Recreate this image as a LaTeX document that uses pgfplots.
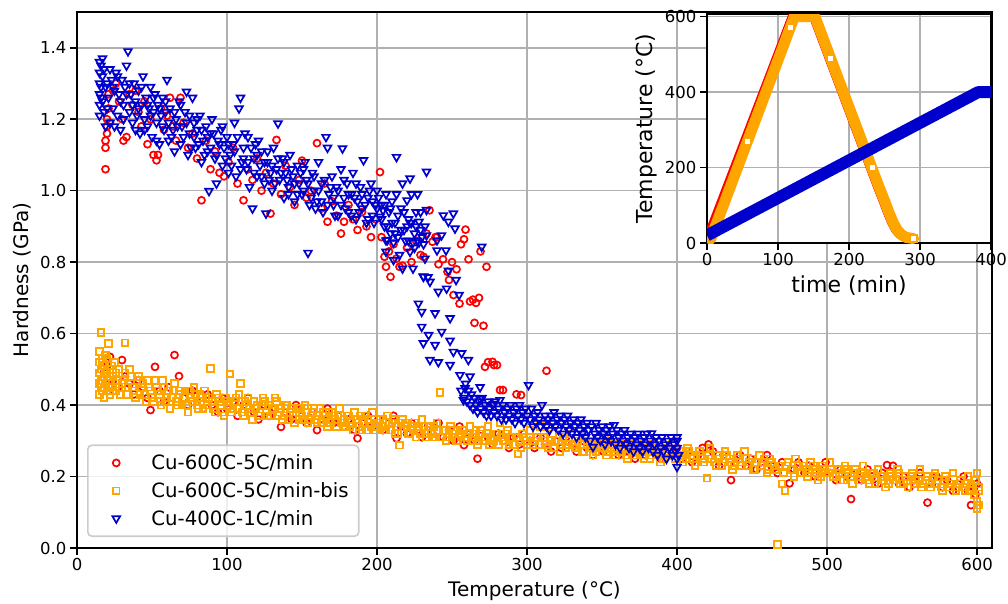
\documentclass[border=0pt]{standalone}
\usepackage{fontspec}
\setmainfont{DejaVu Sans}
\usepackage{pgfplots}
\pgfplotsset{compat=1.18}
\definecolor{mpred}{HTML}{FF0000}
\definecolor{mporange}{HTML}{FFA500}
\definecolor{mpblue}{HTML}{0000CD}
\definecolor{gridgray}{HTML}{B0B0B0}
\definecolor{legframe}{HTML}{CCCCCC}
\pgfplotsset{
  mpstyle/.style={
    scale only axis,
    grid=major,
    major grid style={gridgray, line width=1.6pt},
    axis line style={line width=1.6pt, black},
    tick align=outside, major tick length=7pt,
    tick style={line width=1.6pt, black},
    tick pos=left,
    /pgf/number format/assume math mode=true,
    ticklabel style={font=\fontsize{16.5}{19}\selectfont},
  }
}
\begin{document}
\begin{tikzpicture}[x=1pt,y=1pt]
\begin{axis}[mpstyle,
  at={(0pt,0pt)}, anchor=south west,
  width=915pt, height=536pt,
  xmin=0, xmax=610, ymin=0, ymax=1.5,
  xtick={0,100,200,300,400,500,600},
  ytick={0,0.2,0.4,0.6,0.8,1.0,1.2,1.4},
  yticklabel style={/pgf/number format/.cd, fixed, fixed zerofill, precision=1},
  label style={font=\fontsize{20}{24}\selectfont},
  xlabel={Temperature (°C)}, ylabel={Hardness (GPa)},
  xlabel style={at={(axis description cs:0.5,-0.080)}, anchor=center},
  ylabel style={at={(axis description cs:-0.0601,0.5)}, anchor=center},
  legend cell align=left,
  legend image code/.code={\path (0pt,0pt) (52pt,0pt); \draw[mark repeat=1,#1] plot coordinates {(19.6pt,0pt)};},
  legend style={at={(rel axis cs:0.011,0.0205)}, anchor=south west,
    draw=legframe, line width=1.6pt, rounded corners=4pt,
    fill=white, fill opacity=0.8, text opacity=1,
    font=\fontsize{19.7}{23}\selectfont, inner xsep=8pt, inner ysep=7.5pt,
    row sep=7.3pt},
]
% Cu-600C-5C/min (heating branch and cooled branch)
\addplot[only marks, mark=o, mark size=3.5pt, mpred, mark options={line width=1.7pt}] coordinates {
(19,1.06)(19,1.12)(19,1.14)(20,1.16)(20,1.18)(20,1.20)(21,1.23)(21,1.27)(22,1.19)
(24,1.28)(26,1.30)(28,1.25)(30,1.20)(31,1.14)(33,1.15)(35,1.27)(37,1.24)(39,1.28)(41,1.22)(43,1.18)(45,1.25)(47,1.13)(49,1.20)(51,1.10)(53,1.085)(54,1.10)(56,1.23)(58,1.17)(60,1.21)(62,1.26)(64,1.18)(66,1.14)(69,1.26)(71,1.19)(74,1.12)(77,1.16)(80,1.09)(83,0.973)(86,1.14)(89,1.06)(92,1.11)(95,1.05)(98,1.04)(101,1.08)(104,1.12)(107,1.02)(111,0.973)(114,1.06)(117,1.03)(120,1.09)(123,1.00)(126,1.05)(129,0.936)(131,1.02)(133,1.142)(136,0.99)(139,1.07)(142,1.01)(145,0.96)(148,1.03)(150,1.084)(153,0.98)(156,1.00)(160,1.133)(163,0.95)(165,1.02)(167,0.913)(170,0.97)(173,0.93)(176,0.88)(178,0.913)(181,0.96)(184,0.92)(187,0.89)(190,0.94)(193,0.90)(196,0.87)(199,0.92)(202,1.052)(203,0.87)(205,0.815)(206,0.787)(208,0.83)(209,0.759)(211,0.85)(213,0.81)(215,0.787)(217,0.79)(220,0.84)(223,0.80)(226,0.86)(229,0.82)(231,0.815)(233,0.88)(235,0.945)(237,0.857)(239,0.87)(240,0.87)(241,0.794)(244,0.808)(247,0.773)(248,0.75)(250,0.80)(251,0.708)(253,0.78)(255,0.684)(256,0.85)(258,0.864)(259,0.891)(261,0.808)(262,0.69)(264,0.695)(265,0.63)(266,0.686)(268,0.70)(269,0.83)(271,0.622)(272,0.507)(273,0.787)(274,0.52)(277,0.521)(278,0.512)(280,0.512)(282,0.442)(284,0.442)(293,0.43)(296,0.428)(313,0.496)
(18,0.49)(19,0.46)(20,0.51)(21,0.44)(22,0.535)(24,0.47)(27,0.45)(30,0.526)(32,0.48)(35,0.46)(38,0.43)(41,0.47)(44,0.45)(47,0.42)(49,0.386)(52,0.507)(55,0.44)(58,0.41)(61,0.45)(65,0.54)(68,0.481)(71,0.42)(74,0.40)(77,0.44)(80,0.41)(84,0.39)(87,0.43)(90,0.40)(94,0.38)(97,0.42)(100,0.39)(104,0.41)(107,0.37)(111,0.40)(114,0.42)(118,0.38)(121,0.36)(125,0.40)(128,0.37)(132,0.39)(136,0.339)(139,0.38)(143,0.36)(146,0.40)(150,0.37)(153,0.35)(157,0.38)(160,0.33)(164,0.36)(167,0.39)(171,0.35)(174,0.37)(178,0.34)(181,0.36)(185,0.33)(187,0.307)(190,0.35)(194,0.37)(197,0.34)(201,0.36)(204,0.33)(208,0.35)(211,0.37)(213,0.307)(216,0.34)(220,0.32)(223,0.35)(227,0.33)(230,0.31)(234,0.34)(237,0.32)(241,0.35)(244,0.31)(248,0.33)(251,0.30)(255,0.34)(258,0.288)(262,0.32)(265,0.30)(267,0.25)(270,0.33)(274,0.31)(277,0.29)(281,0.32)(284,0.30)(288,0.28)(291,0.31)(295,0.29)(298,0.32)(302,0.30)(305,0.28)(309,0.31)(312,0.29)(316,0.27)(319,0.30)(323,0.28)(326,0.31)(330,0.29)(333,0.27)(337,0.30)(340,0.28)(344,0.26)(347,0.29)(351,0.27)(354,0.30)(358,0.28)(361,0.26)(365,0.29)(368,0.27)(372,0.25)(375,0.28)(379,0.26)(382,0.29)(386,0.27)(389,0.25)(393,0.28)(396,0.26)(400,0.28)(403,0.25)(407,0.27)(410,0.24)(414,0.26)(417,0.28)(421,0.29)(424,0.27)(428,0.23)(431,0.26)(436,0.19)(439,0.24)(442,0.26)(446,0.23)(449,0.25)(453,0.22)(456,0.24)(460,0.26)(463,0.23)(467,0.21)(470,0.24)(475,0.181)(478,0.22)(481,0.24)(485,0.21)(488,0.23)(492,0.20)(495,0.22)(499,0.24)(502,0.21)(506,0.19)(509,0.22)(513,0.20)(516,0.137)(520,0.21)(523,0.19)(527,0.22)(530,0.20)(534,0.18)(537,0.21)(540,0.232)(544,0.23)(548,0.18)(551,0.20)(555,0.17)(558,0.19)(562,0.21)(567,0.127)(570,0.18)(573,0.20)(577,0.17)(580,0.19)(584,0.16)(587,0.18)(591,0.20)(594,0.16)(596,0.12)(598,0.17)(599,0.15)(600,0.18)
};
\addlegendentry{Cu-600C-5C/min}
% Cu-600C-5C/min-bis
\addplot[only marks, mark=square, mark size=3.3pt, mporange, mark options={line width=1.7pt}] coordinates {
(15,0.43)(15,0.46)(15,0.49)(15,0.52)(15,0.55)(16,0.603)(16,0.45)(16,0.50)(17,0.47)(17,0.53)(17,0.44)(18,0.48)(18,0.51)(18,0.42)(19,0.46)(19,0.54)(20,0.49)(20,0.44)(21,0.572)(21,0.47)(22,0.50)(22,0.43)(23,0.45)(24,0.48)(25,0.52)(26,0.44)(27,0.47)(28,0.50)(29,0.43)(30,0.46)(32,0.574)(32,0.49)(34,0.45)(36,0.48)(38,0.44)(40,0.47)(42,0.43)(44,0.46)(46,0.41)(48,0.45)(50,0.42)(52,0.47)(54,0.44)(56,0.40)(58,0.45)(60,0.42)(62,0.39)(64,0.44)(66,0.41)(68,0.43)(70,0.40)(72,0.44)(74,0.38)(76,0.42)(78,0.45)(80,0.40)(82,0.43)(84,0.39)(86,0.42)(89,0.502)(90,0.41)(92,0.38)(94,0.42)(96,0.40)(98,0.37)(100,0.41)(102,0.487)(104,0.39)(106,0.42)(109,0.46)(110,0.38)(112,0.41)(115,0.39)(117,0.36)(120,0.40)(122,0.38)(125,0.41)(127,0.37)(130,0.39)(132,0.42)(135,0.38)(137,0.36)(140,0.40)(142,0.38)(145,0.35)(147,0.39)(150,0.37)(152,0.40)(155,0.36)(157,0.38)(160,0.35)(162,0.39)(165,0.37)(167,0.34)(170,0.38)(172,0.36)(175,0.39)(177,0.35)(180,0.37)(182,0.34)(185,0.38)(187,0.36)(190,0.33)(192,0.37)(195,0.35)(197,0.38)(200,0.34)(202,0.36)(205,0.33)(207,0.37)(210,0.35)(212,0.32)(215,0.288)(217,0.36)(220,0.34)(222,0.32)(225,0.35)(227,0.33)(230,0.36)(232,0.32)(235,0.34)(237,0.31)(240,0.35)(242,0.435)(244,0.33)(247,0.31)(249,0.34)(252,0.32)(254,0.30)(257,0.33)(259,0.31)(262,0.34)(264,0.32)(267,0.29)(269,0.33)(272,0.31)(274,0.34)(277,0.30)(279,0.32)(282,0.35)(284,0.30)(287,0.33)(289,0.31)(292,0.29)(294,0.264)(297,0.32)(299,0.30)(302,0.33)(304,0.29)(307,0.31)(309,0.34)(312,0.30)(314,0.28)(317,0.32)(319,0.30)(322,0.27)(324,0.31)(327,0.29)(329,0.32)(332,0.28)(334,0.30)(337,0.27)(339,0.31)(342,0.29)(344,0.26)(347,0.30)(349,0.28)(352,0.31)(354,0.27)(357,0.29)(359,0.26)(362,0.30)(364,0.28)(367,0.25)(369,0.29)(372,0.27)(374,0.30)(377,0.26)(379,0.28)(382,0.25)(384,0.29)(387,0.27)(389,0.24)(392,0.28)(394,0.26)(397,0.29)(399,0.25)(402,0.27)(404,0.24)(407,0.28)(409,0.26)(412,0.23)(415,0.27)(417,0.25)(420,0.195)(422,0.28)(425,0.24)(427,0.26)(430,0.23)(432,0.27)(435,0.25)(437,0.22)(440,0.26)(442,0.24)(445,0.27)(447,0.23)(450,0.25)(452,0.22)(455,0.26)(457,0.24)(460,0.21)(462,0.25)(465,0.23)(467,0.01)(470,0.18)(472,0.16)(474,0.24)(477,0.22)(479,0.25)(482,0.21)(484,0.23)(487,0.20)(489,0.24)(492,0.22)(494,0.19)(497,0.23)(499,0.21)(502,0.24)(504,0.20)(507,0.22)(509,0.19)(512,0.23)(514,0.21)(517,0.18)(519,0.22)(522,0.20)(524,0.23)(527,0.19)(529,0.21)(532,0.18)(534,0.22)(537,0.20)(539,0.17)(542,0.21)(544,0.19)(547,0.22)(549,0.18)(552,0.20)(554,0.17)(557,0.21)(559,0.19)(562,0.22)(564,0.18)(567,0.20)(569,0.17)(572,0.21)(574,0.19)(577,0.16)(579,0.20)(582,0.18)(584,0.21)(587,0.17)(589,0.19)(592,0.16)(594,0.20)(596,0.18)(598,0.15)(599,0.19)(600,0.21)(600,0.13)(601,0.16)(601,0.12)(600,0.11)(601,0.17)
(16,0.47)(17,0.51)(18,0.45)(19,0.49)(20,0.53)(21,0.45)(23,0.51)(24,0.44)(26,0.49)(28,0.45)(31,0.47)(33,0.43)(35,0.50)(37,0.45)(39,0.42)(41,0.48)(43,0.45)(45,0.43)(47,0.47)(49,0.44)(51,0.41)(53,0.45)(55,0.43)(57,0.47)(59,0.41)(61,0.44)(63,0.42)(65,0.46)(67,0.40)(69,0.44)(71,0.42)(73,0.40)(75,0.44)(77,0.41)(79,0.43)(81,0.39)(83,0.42)(85,0.44)(87,0.40)(88,0.42)(91,0.39)(93,0.43)(95,0.41)(97,0.38)(99,0.42)(101,0.40)(103,0.38)(105,0.41)(107,0.39)(108,0.43)(111,0.37)(113,0.40)(114,0.42)(116,0.38)(118,0.41)(119,0.39)(121,0.37)(123,0.40)(124,0.42)(126,0.38)(128,0.40)(129,0.37)(131,0.39)(133,0.41)(134,0.37)(136,0.39)(138,0.37)(139,0.40)(141,0.36)(143,0.39)(144,0.37)(146,0.38)(148,0.36)(149,0.39)(151,0.36)(153,0.38)(154,0.35)(156,0.37)(158,0.39)(159,0.36)(161,0.37)(163,0.35)(164,0.38)(166,0.36)(168,0.38)(169,0.35)(171,0.37)(173,0.34)(174,0.37)(176,0.35)(178,0.36)(179,0.34)(181,0.37)(183,0.35)(184,0.33)(186,0.36)(188,0.34)(189,0.37)(191,0.35)(193,0.33)(194,0.36)(196,0.34)(198,0.36)(199,0.33)(201,0.35)(203,0.34)(204,0.36)(206,0.33)(208,0.35)(209,0.33)(211,0.36)(213,0.34)(214,0.32)(216,0.35)(218,0.33)(219,0.35)(221,0.32)(223,0.34)(224,0.33)(226,0.31)(228,0.34)(229,0.32)(231,0.34)(233,0.31)(234,0.33)(236,0.32)(238,0.34)(239,0.31)(241,0.33)(243,0.31)(245,0.33)(246,0.30)(248,0.32)(250,0.31)(251,0.33)(253,0.30)(255,0.32)(256,0.31)(258,0.33)(260,0.30)(261,0.32)(263,0.30)(265,0.31)(266,0.33)(268,0.30)(270,0.32)(271,0.30)(273,0.32)(275,0.29)(276,0.31)(278,0.30)(280,0.32)(281,0.29)(283,0.31)(285,0.30)(286,0.32)(288,0.29)(290,0.31)(291,0.29)(293,0.31)(295,0.30)(296,0.28)(298,0.31)(300,0.29)
(302,0.31)(305,0.30)(308,0.29)(311,0.31)(313,0.29)(316,0.30)(318,0.28)(321,0.30)(323,0.29)(326,0.28)(328,0.30)(331,0.29)(333,0.28)(336,0.29)(338,0.27)(341,0.30)(343,0.28)(346,0.27)(348,0.29)(351,0.28)(353,0.26)(356,0.28)(358,0.27)(361,0.29)(363,0.27)(366,0.26)(368,0.28)(371,0.26)(373,0.28)(376,0.27)(378,0.25)(381,0.27)(383,0.26)(386,0.28)(388,0.26)(391,0.25)(393,0.27)(396,0.26)(398,0.27)
(403,0.26)(406,0.25)(408,0.27)(411,0.25)(413,0.24)(416,0.26)(418,0.24)(421,0.26)(423,0.25)(426,0.23)(428,0.25)(431,0.24)(433,0.26)(436,0.24)(438,0.23)(441,0.25)(443,0.23)(446,0.25)(448,0.24)(451,0.22)(453,0.24)(456,0.23)(458,0.25)(461,0.22)(463,0.24)(466,0.22)(468,0.23)(471,0.21)(473,0.23)(476,0.22)(478,0.20)(481,0.23)(483,0.21)(486,0.22)(488,0.21)(491,0.23)(493,0.21)(496,0.20)(498,0.22)(501,0.21)(503,0.22)(506,0.20)(508,0.21)(511,0.19)(513,0.22)(516,0.20)(518,0.21)(521,0.19)(523,0.21)(526,0.20)(528,0.18)(531,0.21)(533,0.19)(536,0.20)(538,0.19)(541,0.18)(543,0.20)(546,0.19)(548,0.21)(551,0.18)(553,0.19)(556,0.20)(558,0.18)(561,0.19)(563,0.17)(566,0.19)(568,0.18)(571,0.20)(573,0.18)(576,0.17)(578,0.19)(581,0.17)(583,0.18)(586,0.16)(588,0.18)(591,0.17)(593,0.18)(595,0.16)(597,0.17)
};
\addlegendentry{Cu-600C-5C/min-bis}
% Cu-400C-1C/min
\addplot[only marks, mark=triangle, mark size=4.4pt, mpblue, mark options={line width=1.7pt, rotate=180}] coordinates {
(15,1.36)(15,1.33)(15,1.30)(15,1.27)(15,1.24)(15,1.21)(16,1.35)(16,1.29)(17,1.32)(17,1.25)(18,1.22)(18,1.34)(19,1.18)(20,1.30)(21,1.26)(22,1.19)(23,1.31)(24,1.23)(25,1.28)(26,1.33)(27,1.21)(28,1.27)(29,1.17)(30,1.31)(31,1.24)(32,1.29)(33,1.35)(34,1.39)(35,1.22)(36,1.27)(37,1.19)(38,1.30)(39,1.25)(40,1.21)(41,1.28)(42,1.16)(43,1.24)(44,1.32)(45,1.20)(46,1.26)(47,1.18)(48,1.23)(49,1.29)(50,1.15)(51,1.22)(52,1.27)(53,1.19)(54,1.24)(55,1.13)(56,1.21)(57,1.26)(58,1.17)(59,1.22)(60,1.31)
(61,1.14)(62,1.23)(64,1.17)(65,1.11)(66,1.20)(68,1.25)(69,1.13)(70,1.18)(72,1.22)(73,1.277)(74,1.10)(75,1.16)(77,1.26)(78,1.19)(79,1.12)(80,1.17)(82,1.21)(83,1.08)(84,1.14)(86,1.18)(87,1.11)(88,0.999)(89,1.16)(90,1.20)(92,1.09)(93,1.02)(94,1.14)(96,1.17)(97,1.07)(98,1.12)(100,1.15)(101,1.05)(102,1.10)(104,1.13)(105,1.19)(106,1.04)(108,1.23)(109,1.26)(110,1.08)(111,1.12)(113,1.06)(114,1.15)(115,1.01)(117,0.95)(118,1.09)(119,1.13)(120,1.04)(122,1.07)(123,1.11)(125,1.02)(126,0.936)(127,1.08)(129,1.05)(130,1.00)(131,1.12)(133,1.06)(134,1.188)(135,1.03)(137,1.09)(138,0.98)(139,1.05)(141,1.01)(142,1.10)(144,1.04)(145,0.97)(147,1.07)(148,1.02)(150,0.99)(151,1.06)(153,1.03)(154,0.826)(155,0.96)(157,1.05)(158,1.00)(160,0.97)(161,1.08)(163,1.02)(164,0.94)(166,1.15)(167,1.12)(168,0.99)(170,1.04)(171,0.96)(173,1.01)(174,0.93)(176,1.06)(177,1.118)(178,0.98)(180,1.02)(181,0.94)(183,0.99)(184,1.05)(186,0.92)(187,0.97)(189,1.01)(190,0.95)(191,1.085)(193,0.91)(194,0.98)(196,1.02)(197,0.93)(199,0.96)(200,1.00)
(16,1.26)(17,1.37)(19,1.29)(20,1.23)(22,1.34)(24,1.29)(25,1.18)(27,1.32)(29,1.25)(31,1.20)(33,1.27)(35,1.30)(37,1.24)(39,1.17)(41,1.23)(43,1.29)(45,1.17)(47,1.24)(49,1.21)(51,1.26)(53,1.14)(55,1.23)(57,1.18)(59,1.25)(61,1.19)(63,1.15)(65,1.22)(67,1.18)(69,1.24)(71,1.15)(73,1.19)(75,1.21)(76,1.12)(78,1.15)(80,1.20)(81,1.13)(83,1.17)(85,1.10)(87,1.15)(89,1.12)(91,1.16)(93,1.10)(95,1.13)(97,1.18)(99,1.09)(101,1.13)(103,1.07)(105,1.11)(107,1.15)(109,1.06)(111,1.09)(112,1.16)(114,1.08)(116,1.12)(118,1.05)(120,1.10)(121,1.14)(123,1.04)(125,1.08)(127,1.11)(128,1.03)(130,1.07)(132,1.02)(134,1.09)(136,1.05)(138,1.08)(140,1.03)(141,0.99)(143,1.06)(145,1.02)(147,0.99)(149,1.05)(151,1.00)(152,1.08)(154,1.02)(156,0.98)(158,1.04)(159,0.95)(161,1.00)(163,0.97)(165,1.03)(167,0.96)(169,1.01)(171,0.98)(172,0.93)(174,1.00)(176,0.96)(178,1.03)(179,0.95)(181,0.99)(183,0.93)(185,0.98)(186,1.02)(188,0.94)(190,0.99)(192,0.96)(194,0.92)(195,1.00)(197,0.97)(198,0.91)(200,0.95)(201,0.98)(203,0.92)(205,0.96)(207,0.90)(209,0.95)(210,0.91)(212,0.88)(214,0.93)(216,0.89)(218,0.94)(220,0.90)(221,0.86)(223,0.91)(225,0.84)(226,0.90)(227,0.86)(229,0.89)(231,0.85)(232,0.90)
(202,0.927)(203,0.96)(204,0.945)(205,0.90)(206,0.99)(206,0.861)(206,0.829)(207,0.862)(208,0.94)(209,0.88)(210,0.97)(211,0.855)(211,0.806)(212,0.91)(213,0.99)(213,1.094)(214,0.87)(215,0.82)(216,0.95)(217,1.02)(217,0.782)(218,0.89)(219,0.86)(220,0.973)(221,0.92)(222,1.034)(222,0.91)(222,0.829)(223,0.99)(224,0.782)(224,0.855)(225,0.88)(226,0.94)(227,0.99)(228,0.913)(228,0.855)(229,0.94)(230,0.87)(231,0.76)(232,0.81)(233,0.946)(233,1.053)(233,0.875)(234,0.758)
(227.6,0.684)(229.8,0.661)(229.8,0.619)(230.9,0.759)(230.9,0.573)(234.4,0.596)(235.3,0.745)(235.3,0.526)(238.7,0.657)(238.7,0.568)(240,0.861)(240,0.833)(240.9,0.717)(240.9,0.52)(243,0.875)(243.1,0.605)(244.2,0.931)(246,0.833)(246.4,0.726)(247.6,0.776)(247.6,0.913)(248.7,0.643)(248.7,0.58)(248.7,0.512)(250.9,0.936)(250.9,0.549)(252,0.894)(252.7,0.75)(254.7,0.708)(255.3,0.484)(256.4,0.545)(257.6,0.414)(258.7,0.447)(260.9,0.526)(262,0.48)(268.7,0.45)(268.7,0.417)(269.8,0.843)(277.6,0.403)
(256,0.44)(258,0.42)(259,0.46)(260,0.41)(261,0.44)(262,0.40)(263,0.43)(264,0.39)(265,0.42)(266,0.40)(267,0.38)(268,0.41)(269,0.39)(270,0.42)(271,0.38)(272,0.40)(273,0.37)(274,0.41)(275,0.39)(276,0.37)(277,0.40)(278,0.38)(279,0.41)(280,0.37)(281,0.39)(282,0.414)(283,0.36)(284,0.40)(285,0.38)(286,0.36)(287,0.39)(288,0.37)(289,0.40)(290,0.36)(291,0.38)(292,0.35)(293,0.39)(294,0.37)(295,0.40)(296,0.36)(297,0.38)(298,0.35)(299,0.39)(300,0.37)(301,0.456)(302,0.36)(303,0.39)(304,0.34)(305,0.37)(306,0.35)(307,0.38)(308,0.36)(309,0.34)(310,0.40)(311,0.35)(312,0.37)(313,0.34)(314,0.36)(315,0.33)(316,0.37)(317,0.35)(318,0.38)(319,0.34)(320,0.36)(321,0.33)(322,0.37)(323,0.35)(324,0.32)(325,0.36)(326,0.34)(327,0.37)(328,0.33)(329,0.35)(330,0.32)(331,0.36)(332,0.34)(333,0.31)(334,0.35)(335,0.33)(336,0.36)(337,0.32)(338,0.34)(339,0.31)(340,0.35)(341,0.33)(342,0.30)(343,0.34)(344,0.283)(345,0.32)(346,0.35)(347,0.31)(348,0.33)(349,0.30)(350,0.34)(351,0.32)(352,0.29)(353,0.33)(354,0.31)(355,0.34)(356,0.30)(357,0.32)(358,0.344)(359,0.29)(360,0.33)(361,0.31)(362,0.28)(363,0.32)(364,0.30)(365,0.33)(366,0.29)(367,0.31)(368,0.28)(369,0.32)(370,0.30)(371,0.27)(372,0.31)(373,0.29)(374,0.32)(375,0.28)(376,0.30)(377,0.27)(378,0.31)(379,0.29)(380,0.32)(381,0.28)(382,0.30)(383,0.321)(384,0.27)(385,0.29)(386,0.31)(387,0.26)(388,0.30)(389,0.28)(390,0.31)(391,0.27)(392,0.29)(393,0.25)(394,0.30)(395,0.28)(396,0.31)(397,0.26)(398,0.29)(399,0.27)(400,0.30)(400,0.25)(400,0.227)(400,0.28)(400,0.31)(401,0.26)
};
\addlegendentry{Cu-400C-1C/min}
\end{axis}
% inset
\begin{axis}[mpstyle,
  at={(630pt,305pt)}, anchor=south west,
  width=284pt, height=229pt,
  xmin=0, xmax=400, ymin=0, ymax=607,
  xtick={0,100,200,300,400}, ytick={0,200,400,600},
  axis background/.style={fill=white},
  label style={font=\fontsize{22}{26}\selectfont},
  xlabel={time (min)}, ylabel={Temperature (°C)},
  xlabel style={at={(axis description cs:0.5,-0.188)}, anchor=center},
  ylabel style={at={(axis description cs:-0.215,0.5)}, anchor=center},
]
\addplot[mpred, line width=9pt, line join=round, line cap=round] coordinates {
(1,15)(120,600)(150,600)(240,150)(248,112)(254,82)(260,55)(266,34)(272,22)(278,15)(284,13)(289,12)};
\addplot[mporange, line width=11pt, line join=round, line cap=round] coordinates {
(5,10)(123,600)(152,600)(242,150)(250,112)(256,82)(262,55)(268,34)(274,22)(280,15)(286,13)(291,12)};
\addplot[only marks, mark=square*, mark size=3.3pt, mark options={draw=mporange, fill=white, line width=1.7pt}] coordinates {
(57,270)(117.6,572)(174,490)(232.6,200)(291,12)};
\addplot[mpblue, line width=12pt, line join=round, line cap=butt] coordinates {
(0,20)(382,400)(400,400)};
\end{axis}
\pgfresetboundingbox
\useasboundingbox (-77,-55) rectangle (931,548);
\end{tikzpicture}
\end{document}
